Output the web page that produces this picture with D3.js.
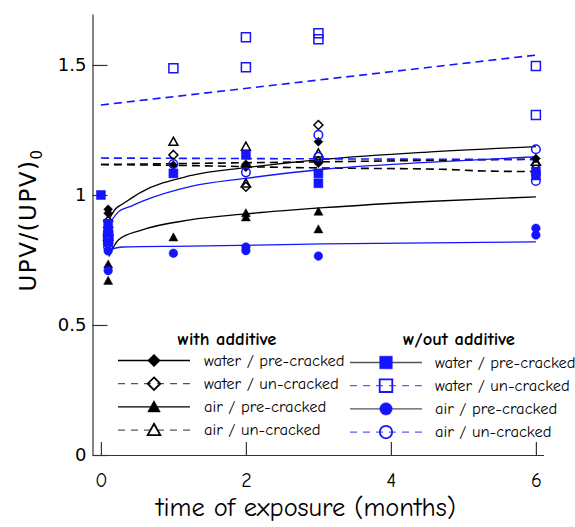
<!DOCTYPE html>
<html>
<head>
<meta charset="utf-8">
<script src="https://cdn.jsdelivr.net/npm/d3@7"></script>
<style>
  body { margin: 0; background: #fff; }
</style>
</head>
<body>
<div id="chart"></div>
<script>
"use strict";

// measured points: [months, UPV/(UPV)0]
var waterPreWith    = [[0.1,0.945],[0.1,0.93],[1,1.114],[2,1.118],[2,1.109],[3,1.205],[3,1.122],[6,1.14]];
var waterUnWith     = [[0.1,0.90],[0.1,0.875],[1,1.154],[2,1.11],[2,1.032],[3,1.269],[3,1.13],[6,1.115]];
var airPreWith      = [[0.1,0.733],[0.1,0.67],[1,0.837],[2,0.93],[2,0.914],[3,0.936],[3,0.868]];
var airUnWith       = [[0.1,0.86],[0.1,0.84],[1,1.205],[2,1.186],[2,1.045],[3,1.16],[6,1.128]];
var waterPreWithout = [[0,1.0],[0.1,0.89],[0.1,0.855],[0.1,0.82],[1,1.083],[2,1.154],[3,1.083],[3,1.045],[6,1.09],[6,1.075]];
var waterUnWithout  = [[0.1,0.845],[0.1,0.83],[1,1.487],[2,1.607],[2,1.491],[3,1.622],[3,1.599],[6,1.496],[6,1.308]];
var airPreWithout   = [[0.1,0.785],[0.1,0.709],[1,0.776],[2,0.80],[2,0.786],[3,0.765],[6,0.872],[6,0.846]];
var airUnWithout    = [[0.1,0.815],[0.1,0.80],[1,1.119],[2,1.087],[3,1.231],[3,1.147],[6,1.176],[6,1.054]];

// trend lines
var fitWaterPreWith    = [[0.12,0.91],[0.2,0.946],[0.3,0.965],[0.55,1.01],[1.23,1.074],[2,1.105],[3.07,1.137],[4.5,1.165],[6,1.186]];
var fitWaterUnWith     = [[0,1.117],[1,1.114],[3,1.104],[4.7,1.099],[5.3,1.092],[6,1.09]];
var fitAirPreWith      = [[0.11,0.763],[0.24,0.827],[0.55,0.864],[1.23,0.904],[2,0.927],[3.07,0.951],[4.5,0.975],[6,0.993]];
var fitAirUnWith       = [[0,1.117],[6,1.138]];
var fitWaterPreWithout = [[0.12,0.89],[0.24,0.935],[0.4,0.955],[0.61,0.98],[1.23,1.032],[2,1.064],[3.07,1.099],[4.5,1.125],[6,1.147]];
var fitWaterUnWithout  = [[0,1.346],[6,1.538]];
var fitAirPreWithout   = [[0.11,0.788],[0.3,0.80],[1.23,0.803],[3.07,0.812],[6,0.82]];
var fitAirUnWithout    = [[0,1.142],[6,1.136]];

var xTicks = [0, 2, 4, 6];
var yTicks = [0, 0.5, 1, 1.5];
var legendTitles = ["with additive", "w/out additive"];

var BLUE = "#1414ff";
var comic = "'Comic Sans MS','Comic Neue','Open Sans',sans-serif";

var series = [
  { label: "water / pre-cracked", col: 0, pts: waterPreWith,    fit: fitWaterPreWith,    color: "#000", dash: null,  shape: "diamond",  filled: true },
  { label: "water / un-cracked",  col: 0, pts: waterUnWith,     fit: fitWaterUnWith,     color: "#000", dash: "8,5", shape: "diamond",  filled: false },
  { label: "air / pre-cracked",   col: 0, pts: airPreWith,      fit: fitAirPreWith,      color: "#000", dash: null,  shape: "triangle", filled: true },
  { label: "air / un-cracked",    col: 0, pts: airUnWith,       fit: fitAirUnWith,       color: "#000", dash: "8,5", shape: "triangle", filled: false },
  { label: "water / pre-cracked", col: 1, pts: waterPreWithout, fit: fitWaterPreWithout, color: BLUE,   dash: null,  shape: "square",   filled: true },
  { label: "water / un-cracked",  col: 1, pts: waterUnWithout,  fit: fitWaterUnWithout,  color: BLUE,   dash: "8,5", shape: "square",   filled: false },
  { label: "air / pre-cracked",   col: 1, pts: airPreWithout,   fit: fitAirPreWithout,   color: BLUE,   dash: null,  shape: "circle",   filled: true },
  { label: "air / un-cracked",    col: 1, pts: airUnWithout,    fit: fitAirUnWithout,    color: BLUE,   dash: "8,5", shape: "circle",   filled: false }
];

var width = 575, height = 527;

var svg = d3.select("#chart")
  .append("svg")
  .attr("width", width)
  .attr("height", height);

var x = d3.scaleLinear().domain([-0.116, 6.105]).range([92.5, 543.5]);
var y = d3.scaleLinear().domain([0, 1.696]).range([455, 14]);

function markerPath(shape, s) {
  if (shape == "square") return "M" + (-s) + "," + (-s) + "H" + s + "V" + s + "H" + (-s) + "Z";
  if (shape == "diamond") return "M0," + (-s) + "L" + s + ",0L0," + s + "L" + (-s) + ",0Z";
  if (shape == "triangle") return "M0," + (-s) + "L" + s + "," + (s * 0.8) + "L" + (-s) + "," + (s * 0.8) + "Z";
  return "M" + s + ",0A" + s + "," + s + " 0 1,1 " + (-s) + ",0A" + s + "," + s + " 0 1,1 " + s + ",0Z";
}

// == axes ==
var yAxis = d3.axisLeft(y)
  .tickValues(yTicks)
  .tickFormat(function(d) { return String(d); })
  .tickSizeInner(-15)
  .tickSizeOuter(0)
  .tickPadding(6);

var xAxis = d3.axisBottom(x)
  .tickValues(xTicks)
  .tickFormat(function(d) { return String(d); })
  .tickSizeInner(-13)
  .tickSizeOuter(0)
  .tickPadding(18);

var gy = svg.append("g")
  .attr("transform", "translate(" + x.range()[0] + ",0)")
  .call(yAxis);
gy.selectAll("text").style("font-family", "'DejaVu Sans',sans-serif").style("font-size", "18px").attr("fill", "#000");

var gx = svg.append("g")
  .attr("transform", "translate(0," + y(0) + ")")
  .call(xAxis);
gx.selectAll("text").style("font-family", comic).style("font-size", "20px").attr("fill", "#000");

svg.selectAll(".domain, .tick line").attr("stroke", "#333").attr("stroke-width", 1.2);

// axis titles
svg.append("text")
  .attr("x", 306)
  .attr("y", 516)
  .attr("text-anchor", "middle")
  .style("font-family", comic)
  .style("font-size", "26.5px")
  .text("time of exposure (months)");

var ylab = svg.append("text")
  .attr("transform", "translate(35.5,220) rotate(-90)")
  .attr("text-anchor", "middle")
  .style("font-family", "'DejaVu Sans',sans-serif")
  .style("font-size", "23px")
  .style("letter-spacing", "1.5px");
ylab.append("tspan").text("UPV/(UPV)");
ylab.append("tspan").attr("dy", 6).style("font-size", "15px").text("0");

// == trend lines ==
var line = d3.line()
  .x(function(d) { return x(d[0]); })
  .y(function(d) { return y(d[1]); })
  .curve(d3.curveMonotoneX);

svg.append("g").selectAll("path")
  .data(series)
  .enter().append("path")
  .attr("d", function(d) { return line(d.fit); })
  .attr("fill", "none")
  .attr("stroke", function(d) { return d.color; })
  .attr("stroke-width", function(d) { return d.dash ? 1.6 : 1.3; })
  .attr("stroke-dasharray", function(d) { return d.dash; });

// == markers (black first, filled blue on top) ==
var drawOrder = [1, 3, 0, 2, 5, 7, 4, 6];
drawOrder.forEach(function(i) {
  var s = series[i];
  svg.append("g").selectAll("path")
    .data(s.pts)
    .enter().append("path")
    .attr("transform", function(d) { return "translate(" + x(d[0]) + "," + y(d[1]) + ")"; })
    .attr("d", markerPath(s.shape, s.shape == "circle" ? 4.3 : 4.5))
    .attr("fill", s.filled ? s.color : "none")
    .attr("stroke", s.color)
    .attr("stroke-width", s.filled ? 0.5 : 1.5);
});

// == legend ==
var legCols = [
  { titleX: 227, lineX0: 118, lineX1: 190, textX: 204, rowY0: 360.5, solid: "#000",    dashed: "#555" },
  { titleX: 459, lineX0: 350, lineX1: 422, textX: 435, rowY0: 362.5, solid: "#555",    dashed: "#5c5cff" }
];

legCols.forEach(function(c, ci) {
  svg.append("text")
    .attr("x", c.titleX)
    .attr("y", 345)
    .attr("text-anchor", "middle")
    .style("font-family", comic)
    .style("font-size", "18.5px")
    .style("font-weight", "bold")
    .text(legendTitles[ci]);

  var rows = series.filter(function(s) { return s.col == ci; });
  rows.forEach(function(s, ri) {
    var yy = c.rowY0 + ri * 23.2;
    var g = svg.append("g");
    g.append("line")
      .attr("x1", c.lineX0).attr("x2", c.lineX1)
      .attr("y1", yy).attr("y2", yy)
      .attr("stroke", s.dash ? c.dashed : c.solid)
      .attr("stroke-width", 1.3)
      .attr("stroke-dasharray", s.dash ? "7,6" : null);
    g.append("path")
      .attr("transform", "translate(" + ((c.lineX0 + c.lineX1) / 2) + "," + yy + ")")
      .attr("d", markerPath(s.shape, s.shape == "circle" ? 6.2 : 6.3))
      .attr("fill", s.filled ? s.color : "none")
      .attr("stroke", s.color)
      .attr("stroke-width", s.filled ? 0.5 : 1.8);
    g.append("text")
      .attr("x", c.textX)
      .attr("y", yy + 5)
      .style("font-family", comic)
      .style("font-size", "16.5px")
      .text(s.label);
  });
});
</script>
</body>
</html>
